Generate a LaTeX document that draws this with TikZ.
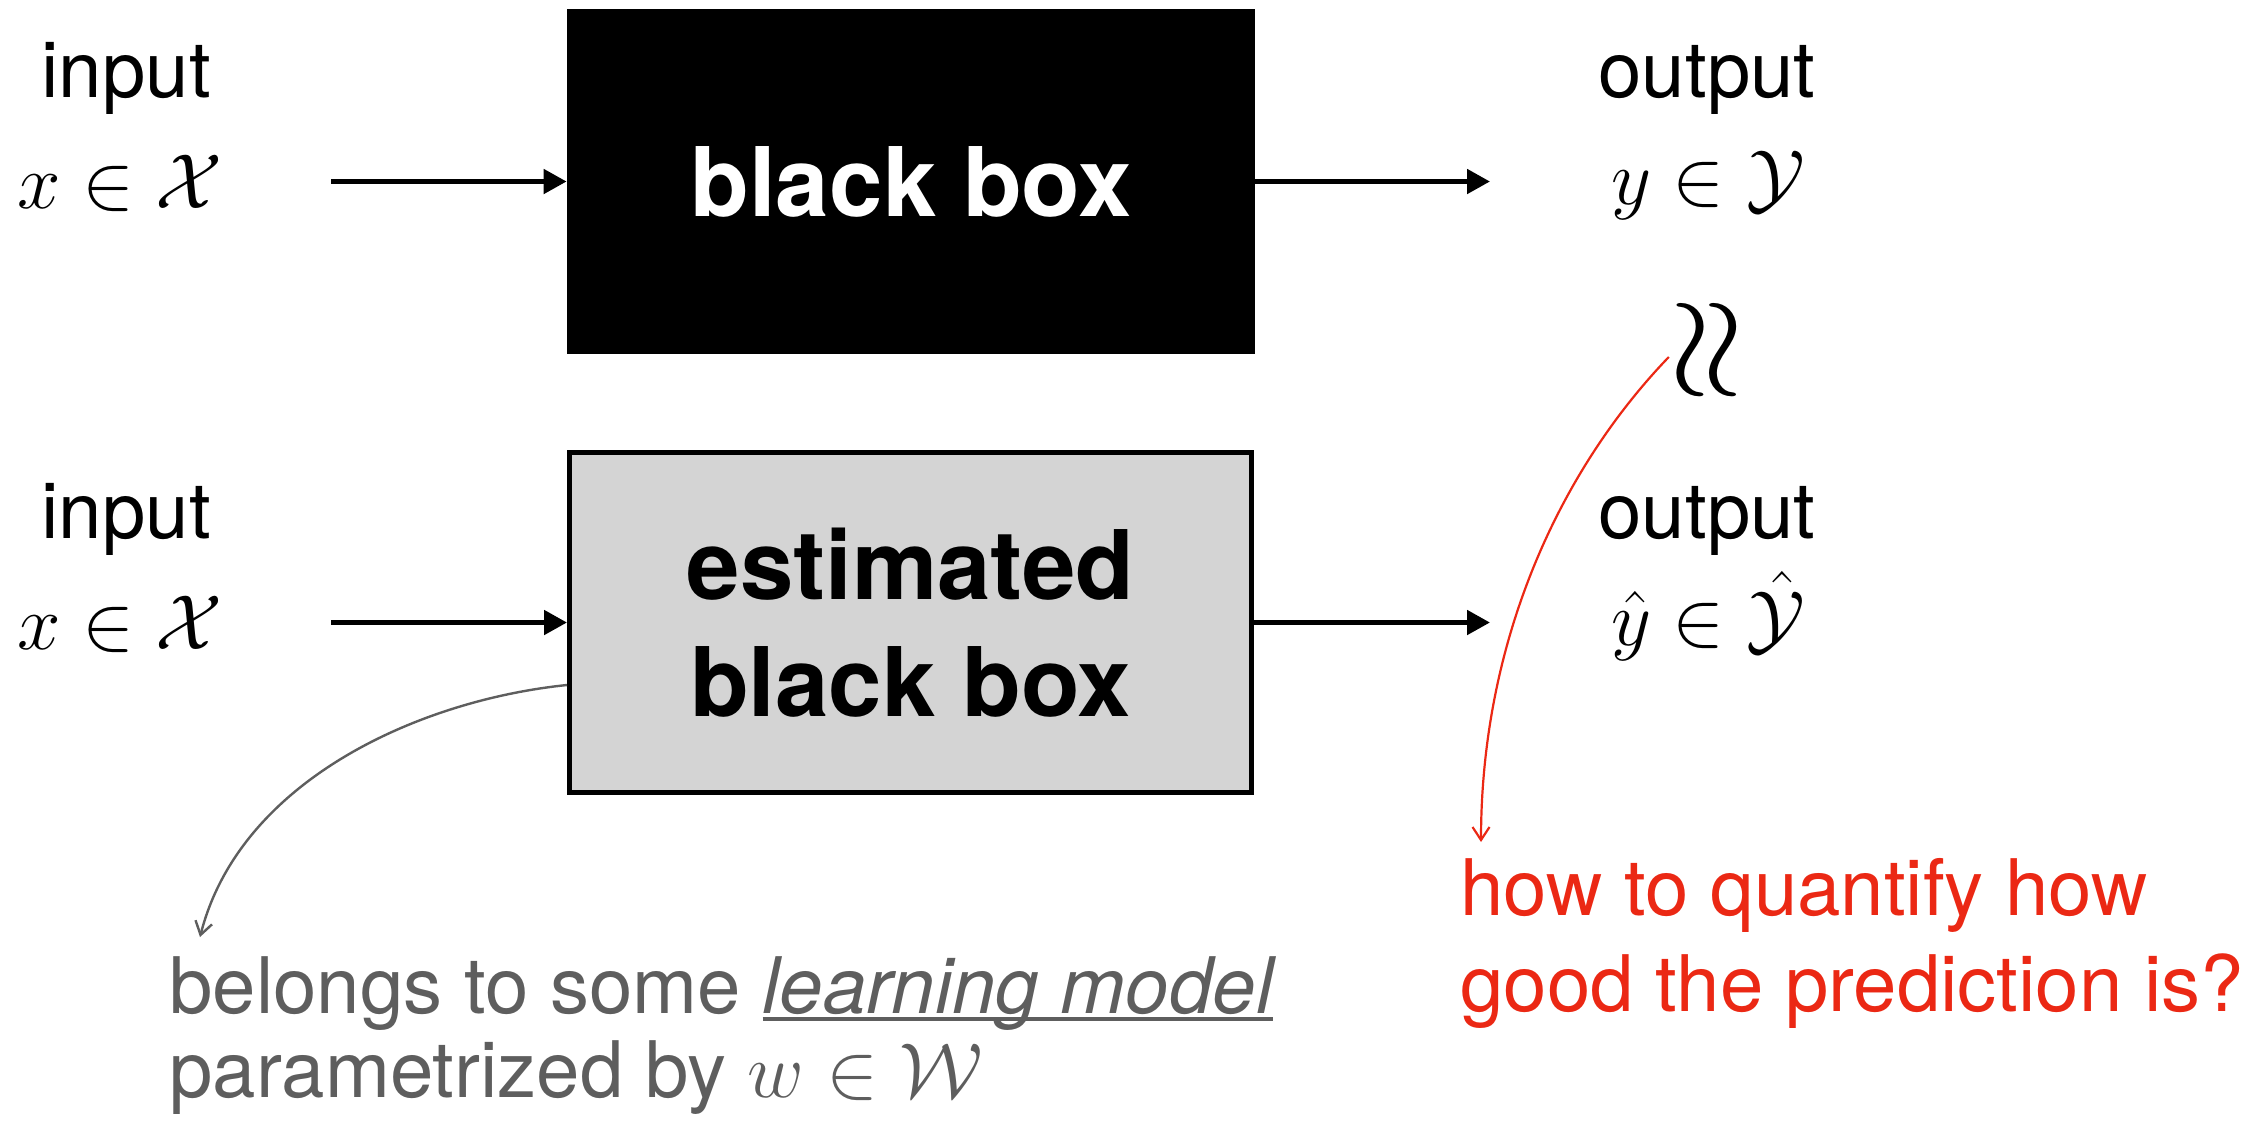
\RequirePackage{fix-cm}
\documentclass[tikz,border=0pt]{standalone}
\usepackage{fontspec}
\setmainfont{TeX Gyre Heros}
\usetikzlibrary{arrows.meta}
\definecolor{redc}{RGB}{235,40,20}
\definecolor{txtgray}{RGB}{94,94,94}
\definecolor{boxgray}{RGB}{212,212,212}
\newcommand\myul[1]{\leavevmode\setbox0\hbox{#1}\rlap{\rule[-4pt]{\wd0}{2pt}}\box0}
\begin{document}
\begin{tikzpicture}[x=0.5pt,y=-0.5pt,
  lbl/.style={font=\fontsize{39}{47}\selectfont, inner sep=0pt, anchor=base},
  boxtxt/.style={font=\fontsize{48}{58.5}\selectfont\bfseries, align=center, inner sep=0pt},
  arr/.style={line width=2.5pt, -{Triangle[length=11.5pt,width=12pt]}},
  note/.style={line width=1.1pt, -{Straight Barb[length=6.5pt,width=8.5pt]}}
]
\useasboundingbox (0,0) rectangle (2257,1121);
% top row
\node[lbl] (in1) at (126,97) {input};
\node[lbl] (x1) at (120,208) {$x\in\mathcal{X}$};
\node[boxtxt, fill=black, text=white, minimum width=344pt, minimum height=172.5pt] (bb) at (911,181.5) {black box};
\coordinate (s1) at (331,181.5);
\coordinate (e1) at (1490,181.5);
\draw[arr] (s1) -- (bb.west);
\draw[arr] (bb.east) -- (e1);
\node[lbl] (out1) at (1707,97) {output};
\node[lbl] (y1) at (1708,204) {$y\in\mathcal{Y}$};
\node[inner sep=0pt] (apx) at (1711,350) {\rotatebox{90}{\fontsize{70}{78}\selectfont$\approx$}};
% bottom row
\node[lbl] (in2) at (126,538) {input};
\node[lbl] (x2) at (120,649) {$x\in\mathcal{X}$};
\node[boxtxt, fill=boxgray, draw=black, line width=2.5pt, minimum width=341pt, minimum height=170pt] (eb) at (910.5,622.5) {estimated\\black box};
\coordinate (s2) at (331,622.5);
\coordinate (e2) at (1490,622.5);
\draw[arr] (s2) -- (eb.west);
\draw[arr] (eb.east) -- (e2);
\node[lbl] (out2) at (1707,538) {output};
\node[lbl] (y2) at (1708,645) {$\hat{y}\in\hat{\mathcal{Y}}$};
% red note
\node[lbl, anchor=base west, text=redc] (q1) at (1460,915) {how to quantify how};
\node[lbl, anchor=base west, text=redc] (q2) at (1460,1011) {good the prediction is?};
\coordinate (rt) at (1481,842);
\draw[note, redc] ([xshift=-4pt,yshift=-3.5pt]apx.west) .. controls (1560,470) and (1481,640) .. (rt);
% gray note
\node[lbl, anchor=base west, text=txtgray] (g1) at (169,1013) {belongs to some \myul{\itshape learning model}};
\node[lbl, anchor=base west, text=txtgray] (g2) at (169,1097) {parametrized by $w\in\mathcal{W}$};
\coordinate (gt) at (200,937);
\draw[note, txtgray, line width=1.2pt] ([yshift=-31.25pt]eb.west) .. controls (420,700) and (240,780) .. (gt);
\end{tikzpicture}
\end{document}
